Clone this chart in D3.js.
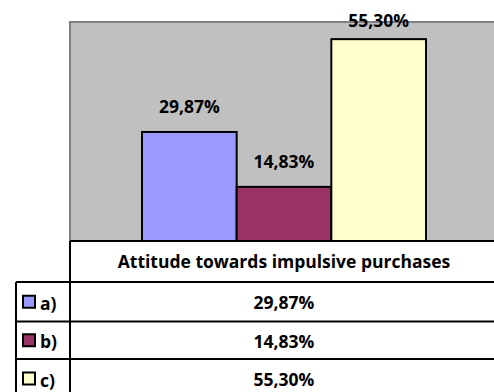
<!DOCTYPE html>
<html><head><meta charset="utf-8">
<script src="https://cdn.jsdelivr.net/npm/d3@7"></script>
<style>html,body{margin:0;padding:0;background:#fff;overflow:hidden}</style>
</head><body>
<svg id="c" width="494" height="392"></svg>
<script>
const categories = ["a)", "b)", "c)"];
const values = [29.87, 14.83, 55.30];
const labels = ["29,87%", "14,83%", "55,30%"];
const colors = ["#9999FF", "#993366", "#FFFFCC"];
const seriesTitle = "Attitude towards impulsive purchases";

const svg = d3.select("#c");
const font = "'Open Sans', Lato, 'Liberation Sans', sans-serif";
const fs = 17.5;
const plot = {left: 70, right: 498, top: 22, bottom: 241};

const x = d3.scaleBand().domain(categories).range([142, 426]).paddingInner(0);
const y = d3.scaleLinear().domain([0, 60]).range([plot.bottom, plot.top]);

svg.append("rect").attr("x", plot.left).attr("y", plot.top)
  .attr("width", plot.right - plot.left).attr("height", plot.bottom - plot.top)
  .attr("fill", "#C0C0C0").attr("stroke", "#808080").attr("stroke-width", 2);

svg.selectAll("rect.bar").data(values).join("rect").attr("class", "bar")
  .attr("x", (d, i) => x(categories[i]))
  .attr("y", d => y(d))
  .attr("width", x.bandwidth())
  .attr("height", d => y(0) - y(d))
  .attr("fill", (d, i) => colors[i])
  .attr("stroke", "#000").attr("stroke-width", 2);

svg.selectAll("text.vl").data(values).join("text").attr("class", "vl")
  .attr("x", (d, i) => x(categories[i]) + x.bandwidth() / 2)
  .attr("y", d => Math.max(y(d) - 19, plot.top + 4.5))
  .attr("text-anchor", "middle")
  .attr("font-family", font).attr("font-weight", "bold").attr("font-size", fs)
  .attr("fill", "#000")
  .text((d, i) => labels[i]);

const rowY = [241, 282, 321.5, 359, 398];
const g = svg.append("g");
g.append("text").attr("x", (plot.left + plot.right) / 2).attr("y", 268)
  .attr("text-anchor", "middle").attr("font-family", font).attr("font-weight", "bold")
  .attr("font-size", fs).text(seriesTitle);

const lineStyle = sel => sel.attr("stroke", "#000").attr("stroke-width", 2);
g.append("line").attr("x1", plot.left).attr("x2", 494).attr("y1", rowY[0]).attr("y2", rowY[0]).call(lineStyle);
for (let i = 1; i < rowY.length - 1; i++) {
  g.append("line").attr("x1", 16).attr("x2", 494).attr("y1", rowY[i]).attr("y2", rowY[i]).call(lineStyle);
}
g.append("line").attr("x1", plot.left).attr("x2", plot.left).attr("y1", rowY[0]).attr("y2", 392).call(lineStyle);
g.append("line").attr("x1", 16).attr("x2", 16).attr("y1", rowY[1]).attr("y2", 392).call(lineStyle);

categories.forEach((c, i) => {
  const top = rowY[i + 1], bot = rowY[i + 2];
  const mid = (top + bot) / 2;
  g.append("rect").attr("x", 23).attr("y", mid - 6).attr("width", 12).attr("height", 12)
    .attr("fill", colors[i]).attr("stroke", "#000").attr("stroke-width", 2);
  g.append("text").attr("x", 40).attr("y", mid + 8)
    .attr("font-family", font).attr("font-weight", "bold").attr("font-size", fs).text(c);
  g.append("text").attr("x", (plot.left + plot.right) / 2).attr("y", mid + 7.5)
    .attr("text-anchor", "middle").attr("font-family", font).attr("font-weight", "bold")
    .attr("font-size", fs).text(labels[i]);
});
</script>
</body></html>
